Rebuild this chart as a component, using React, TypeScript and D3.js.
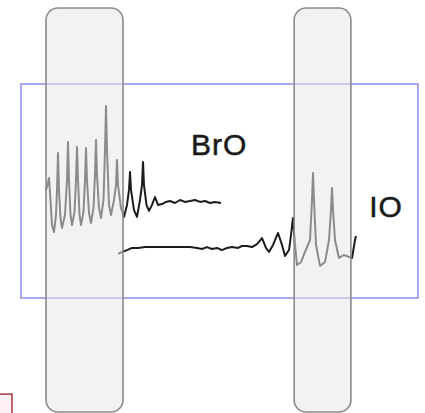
import React from "react";
import * as d3 from "d3";

// Spectral position (arbitrary units 0-100 across the fit window) and optical density (0-100)
const broX = [6.3, 6.68, 7.05, 7.43, 7.81, 8.31, 8.82, 9.07, 9.32, 9.57, 9.95, 10.33, 11.08, 11.59, 11.84, 12.09, 12.47, 12.85, 13.48, 13.85, 14.11, 14.36, 14.74, 15.11, 15.74, 16.12, 16.37, 16.62, 17.13, 17.63, 18.26, 18.64, 18.89, 19.14, 19.65, 20.15, 20.78, 21.16, 21.41, 21.66, 22.17, 22.67, 23.43, 23.93, 24.18, 24.43, 25.19, 25.94, 26.7, 27.2, 27.46, 27.71, 28.46, 29.22, 29.97, 30.48, 30.73, 30.98, 31.61, 32.24, 33.0, 33.75, 34.51, 35.52, 36.52, 37.53, 38.79, 40.05, 41.31, 42.57, 43.83, 45.09, 46.35, 47.61, 48.87, 50.38];
const broY = [50.5, 52.8, 56.1, 45.8, 34.1, 30.8, 38.8, 50.5, 67.8, 50.5, 37.4, 32.7, 38.8, 55.1, 72.9, 55.1, 38.8, 34.1, 40.2, 55.1, 70.6, 55.1, 38.8, 34.1, 40.2, 55.1, 70.1, 55.1, 39.7, 35.0, 42.1, 57.5, 73.8, 57.5, 42.1, 37.4, 45.8, 69.2, 89.7, 69.2, 43.5, 38.8, 45.8, 52.8, 64.5, 52.8, 42.1, 37.9, 43.5, 50.5, 58.9, 50.5, 41.1, 37.9, 45.8, 52.8, 63.6, 52.8, 43.5, 40.7, 43.5, 47.2, 43.5, 43.9, 44.9, 45.3, 44.4, 45.8, 44.9, 45.3, 45.8, 44.9, 45.3, 44.4, 44.9, 44.4];

const ioX = [24.43, 25.44, 26.7, 27.96, 29.47, 31.23, 33.0, 35.01, 37.53, 40.05, 42.57, 44.33, 45.59, 46.85, 48.11, 49.37, 50.63, 51.89, 53.15, 54.66, 55.67, 56.93, 58.19, 59.45, 60.71, 61.71, 62.47, 63.48, 64.74, 65.74, 66.5, 67.51, 68.01, 68.51, 69.02, 69.52, 70.53, 71.54, 72.8, 73.3, 73.55, 73.8, 74.31, 75.31, 76.57, 77.58, 78.09, 78.34, 78.59, 79.09, 80.1, 81.36, 82.62, 83.38, 84.13, 84.38];
const ioY = [20.6, 21.5, 22.4, 23.4, 23.4, 23.8, 23.8, 23.8, 23.8, 23.8, 23.8, 23.4, 22.9, 23.8, 22.9, 23.4, 22.4, 23.4, 23.8, 23.4, 24.3, 24.3, 23.8, 25.2, 28.0, 23.4, 21.5, 24.8, 30.4, 24.8, 19.6, 22.4, 29.4, 37.4, 24.8, 15.4, 16.8, 21.5, 27.1, 45.8, 58.4, 45.8, 24.8, 15.0, 16.8, 27.1, 41.1, 51.4, 41.1, 27.1, 18.7, 20.1, 19.2, 18.7, 27.1, 29.0];

// Highlighted spectral windows [start, end]
const windowStarts = [6.3, 68.8];
const windowEnds = [25.7, 83.1];
const windowYRange = [-53.3, 135.5];

const labels = ["BrO", "IO"];
const labelX = [42.8, 87.7];
const labelY = [66.8, 37.9];

export default function App() {
  const width = 425;
  const height = 413;
  const x = d3.scaleLinear().domain([0, 100]).range([21, 418]);
  const y = d3.scaleLinear().domain([0, 100]).range([298, 84]);

  const mk = (xs: number[], ys: number[]) =>
    d3
      .line<[number, number]>()
      .x((d) => x(d[0]))
      .y((d) => y(d[1]))(xs.map((v, i) => [v, ys[i]] as [number, number])) || "";

  const broPath = mk(broX, broY);
  const ioPath = mk(ioX, ioY);

  return (
    <div style={{ position: "fixed", left: 0, top: 0, width, height, background: "#fff" }}>
      <svg width={width} height={height} style={{ display: "block" }}>
        <defs>
          <filter id="soft" x="-10%" y="-10%" width="120%" height="120%">
            <feGaussianBlur stdDeviation="0.7" />
          </filter>
        </defs>
        {/* red marker at bottom-left */}
        <rect
          x={x(-10)}
          y={y(-44.9)}
          width={x(-2.27) - x(-10)}
          height={60}
          fill="#fdf1f3"
          stroke="#a8323c"
          strokeWidth={1.5}
        />
        {/* fit window */}
        <rect
          x={x(0)}
          y={y(100)}
          width={x(100) - x(0)}
          height={y(0) - y(100)}
          fill="none"
          stroke="#8c8cf0"
          strokeWidth={1.5}
        />
        <g filter="url(#soft)">
          <path d={broPath} fill="none" stroke="#1e1e1e" strokeWidth={2} strokeLinejoin="round" />
          <path d={ioPath} fill="none" stroke="#1e1e1e" strokeWidth={2} strokeLinejoin="round" />
        </g>
        {windowStarts.map((s, i) => (
          <rect
            key={i}
            x={x(s)}
            y={y(windowYRange[1])}
            width={x(windowEnds[i]) - x(s)}
            height={y(windowYRange[0]) - y(windowYRange[1])}
            rx={12}
            ry={12}
            fill="#e8e8e8"
            fillOpacity={0.55}
            stroke="#8a8a8a"
            strokeWidth={1.6}
          />
        ))}
        {labels.map((t, i) => (
          <text
            key={t}
            x={x(labelX[i])}
            y={y(labelY[i])}
            fontFamily="Liberation Sans, Arial, sans-serif"
            fontSize={30}
            letterSpacing={1}
            fill="#1a1a1a"
            stroke="#1a1a1a"
            strokeWidth={0.5}
          >
            {t}
          </text>
        ))}
      </svg>
    </div>
  );
}
